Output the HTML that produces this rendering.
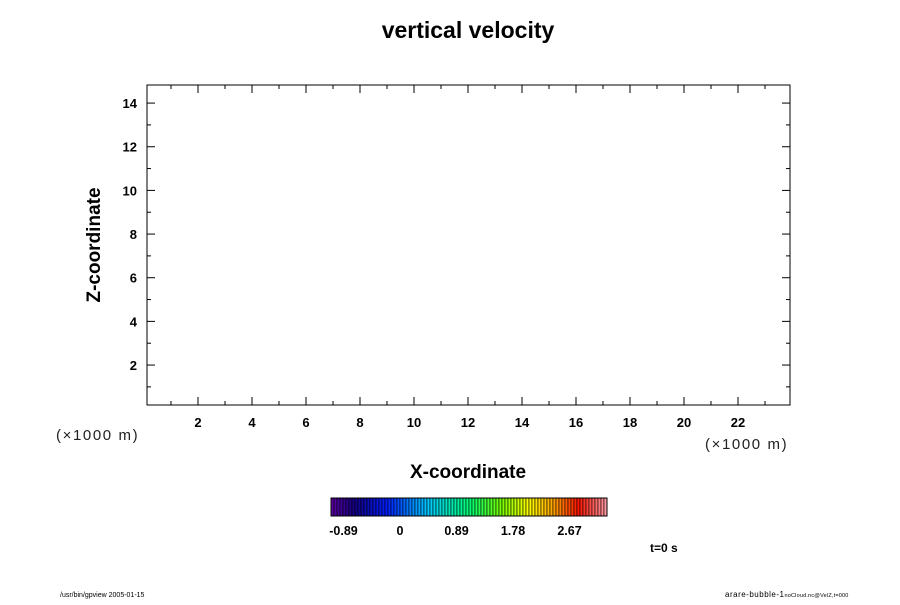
<!DOCTYPE html>
<html><head><meta charset="utf-8"><style>
body{margin:0;background:#fff;width:900px;height:600px;overflow:hidden}
svg text{font-family:"Liberation Sans",sans-serif}
</style></head><body>
<svg id="c" width="900" height="600" xmlns="http://www.w3.org/2000/svg">
<text x="468" y="38" font-size="23" font-weight="bold" text-anchor="middle">vertical velocity</text>
<rect x="147" y="85" width="643" height="320" fill="none" stroke="#000" stroke-width="1"/>
<g id="xt"></g>
<g id="yt"></g>
<text x="100" y="245" font-size="19" font-weight="bold" text-anchor="middle" transform="rotate(-90 100 245)">Z-coordinate</text>
<text x="468" y="478" font-size="19" font-weight="bold" text-anchor="middle">X-coordinate</text>
<text x="56" y="440" font-size="15" letter-spacing="1.6" fill="#222">(×1000 m)</text>
<text x="705" y="449" font-size="15" letter-spacing="1.6" fill="#222">(×1000 m)</text>
<g id="cb"></g>
<text x="650" y="552" font-size="12" font-weight="bold">t=0 s</text>
<text x="60" y="597" font-size="7">/usr/bin/gpview 2005-01-15</text>
<text x="725" y="597" font-size="8" letter-spacing="0.5">arare-bubble-1<tspan font-size="5.5" letter-spacing="0.2">noCloud.nc@VelZ,t=000</tspan></text>
</svg>
<script>
const xTicks=[2,4,6,8,10,12,14,16,18,20,22];
const yTicks=[2,4,6,8,10,12,14];
const cbLabels=["-0.89","0","0.89","1.78","2.67"];
const cbValues=[-0.89,0,0.89,1.78,2.67];
const NS="http://www.w3.org/2000/svg";
const X=v=>144+27*v, Y=v=>408.7-21.83*v, CB=v=>400+v*(56.5/0.89);
function el(t,a,p){const e=document.createElementNS(NS,t);for(const k in a)e.setAttribute(k,a[k]);p.appendChild(e);return e;}
const xt=document.getElementById('xt'),yt=document.getElementById('yt'),cb=document.getElementById('cb');
for(let v=1;v<=23;v++){const L=v%2?4:8;
 let t=el('line',{x1:X(v),x2:X(v),y1:405,y2:405-L,stroke:'#000'},xt);
 
 t=el('line',{x1:X(v),x2:X(v),y1:85,y2:85+L,stroke:'#000'},xt);
 }
for(let v=1;v<=14;v++){const L=v%2?4:8;
 let t=el('line',{x1:147,x2:147+L,y1:Y(v),y2:Y(v),stroke:'#000'},yt);
 
 t=el('line',{x1:790,x2:790-L,y1:Y(v),y2:Y(v),stroke:'#000'},yt);
 }
xTicks.forEach(v=>{const t=el('text',{x:X(v),y:427,'font-size':13,'font-weight':'bold','text-anchor':'middle'},xt);t.textContent=v;
 });
yTicks.forEach(v=>{const t=el('text',{x:137,y:Y(v)+5,'font-size':13,'font-weight':'bold','text-anchor':'end'},yt);t.textContent=v;
 });
const stops=[[0,[90,0,160]],[0.08,[20,0,130]],[0.2,[0,30,255]],[0.35,[0,200,255]],[0.5,[0,255,120]],[0.62,[120,255,0]],[0.72,[255,255,0]],[0.82,[255,150,0]],[0.9,[255,20,0]],[1,[255,150,160]]];
function col(f){for(let i=1;i<stops.length;i++)if(f<=stops[i][0]){const a=stops[i-1],b=stops[i],t=(f-a[0])/(b[0]-a[0]);return 'rgb('+a[1].map((c,j)=>Math.round(c+(b[1][j]-c)*t)).join(',')+')';}return 'rgb(255,150,160)';}
const N=92;for(let i=0;i<N;i++){const r=el('rect',{x:331+i*3,y:498,width:3,height:18,fill:col(i/(N-1)),stroke:'#000','stroke-width':0.6},cb);
 }
const fr=el('rect',{x:331,y:498,width:276,height:18,fill:'none',stroke:'#000'},cb);

cbValues.forEach((v,i)=>{const t=el('text',{x:CB(v),y:535,'font-size':12.5,'font-weight':'bold','text-anchor':'middle'},cb);t.textContent=cbLabels[i];
 });
</script>
</body></html>
